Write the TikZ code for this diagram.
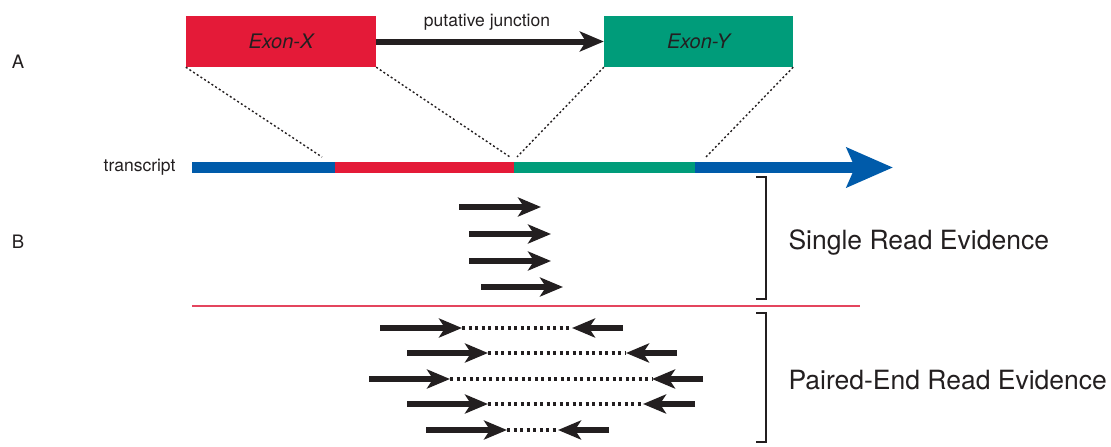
\documentclass[tikz,border=0pt]{standalone}
\usepackage{fontspec}
\setmainfont{TeX Gyre Heros}
\usetikzlibrary{arrows.meta}
\definecolor{exonred}{HTML}{E41A38}
\definecolor{exongreen}{HTML}{009C7A}
\definecolor{txblue}{HTML}{005BAA}
\definecolor{ink}{HTML}{231F20}
\definecolor{sepred}{HTML}{E4455E}
\tikzset{
  exon/.style={minimum height=51pt, inner sep=0pt, text=ink,
    font=\fontsize{20}{22}\selectfont\itshape},
  junction/.style={ink, line width=6pt,
    -{Stealth[length=24pt, width=20pt, inset=6pt]}},
  segment/.style={line width=11pt},
  guide/.style={ink, line width=1.4pt, dash pattern=on 2pt off 2.4pt},
  read/.style={ink, line width=6pt,
    -{Stealth[length=23pt, width=19pt, inset=6pt]}},
  gap/.style={ink, line width=3.4pt, dash pattern=on 3pt off 3.5pt},
  bracket/.style={ink, line width=1.3pt},
  panel/.style={text=ink, font=\fontsize{18.5}{20}\selectfont},
  caption/.style={text=ink, anchor=west, font=\fontsize{26.5}{28}\selectfont},
}
\begin{document}
\begin{tikzpicture}[x=1pt, y=-1pt]
\useasboundingbox (0,0) rectangle (1111,447);

% panel letters
\node[panel] (pa) at (18,62) {A};
\node[panel] (pb) at (18,242) {B};

% the two exons and the junction between them
\node[exon, fill=exonred, minimum width=190pt] (ex) at (281,41.5) {Exon-X};
\node[exon, fill=exongreen, minimum width=189pt] (ey) at (698.5,41.5) {Exon-Y};
\draw[junction] (ex.east) -- (ey.west);
\node[text=ink, font=\fontsize{17.5}{19}\selectfont] (pj) at (487,22) {putative junction};

% transcript
\coordinate (t0) at (192,167.5);
\coordinate (t1) at (335,167.5);
\coordinate (t2) at (514,167.5);
\coordinate (t3) at (695,167.5);
\coordinate (t4) at (893,167.5);
\draw[segment, txblue] (t0) -- (t1);
\draw[segment, exonred] (t1) -- (t2);
\draw[segment, exongreen] (t2) -- (t3);
\draw[segment, txblue, -{Stealth[length=46pt, width=39pt, inset=8pt]}] (t3) -- (t4);
\node[text=ink, anchor=east, font=\fontsize{17.5}{19}\selectfont] (tl) at (179,167) {transcript};

% exon boundaries projected onto the transcript
\coordinate (d1) at (322,157);
\coordinate (d2) at (510,157);
\coordinate (d3) at (517,157);
\coordinate (d4) at (706,157);
\draw[guide] (ex.south west) -- (d1);
\draw[guide] (ex.south east) -- (d2);
\draw[guide] (ey.south west) -- (d3);
\draw[guide] (ey.south east) -- (d4);

% single reads spanning the junction
\foreach \i/\a/\b/\y in {1/459/541/207, 2/469/551/234, 3/469/551/261, 4/481/563/287}{
  \coordinate (s\i a) at (\a,\y);
  \coordinate (s\i b) at (\b,\y);
  \draw[read] (s\i a) -- (s\i b);
}

% separator
\coordinate (sepl) at (192,306);
\coordinate (sepr) at (860,306);
\draw[sepred, line width=1.5pt] (sepl) -- (sepr);

% paired-end reads
\foreach \i/\a/\b/\c/\d/\y in {1/380/462/572/623/328, 2/407/488/626/677/353,
    3/369/450/652/703/379, 4/407/488/643/695/404, 5/426/507/558/609/430}{
  \coordinate (p\i a) at (\a,\y);
  \coordinate (p\i b) at (\b,\y);
  \coordinate (p\i c) at (\c,\y);
  \coordinate (p\i d) at (\d,\y);
  \draw[gap] (p\i b) -- (p\i c);
  \draw[read] (p\i a) -- (p\i b);
  \draw[read] (p\i d) -- (p\i c);
}

% brackets and captions
\draw[bracket] (756,177) -- (766,177) -- (766,299) -- (756,299);
\draw[bracket] (756,313) -- (766,313) -- (766,442) -- (756,442);
\node[caption] (cs) at (785,242) {Single Read Evidence};
\node[caption] (cp) at (785,380) {Paired-End Read Evidence};
\end{tikzpicture}
\end{document}
